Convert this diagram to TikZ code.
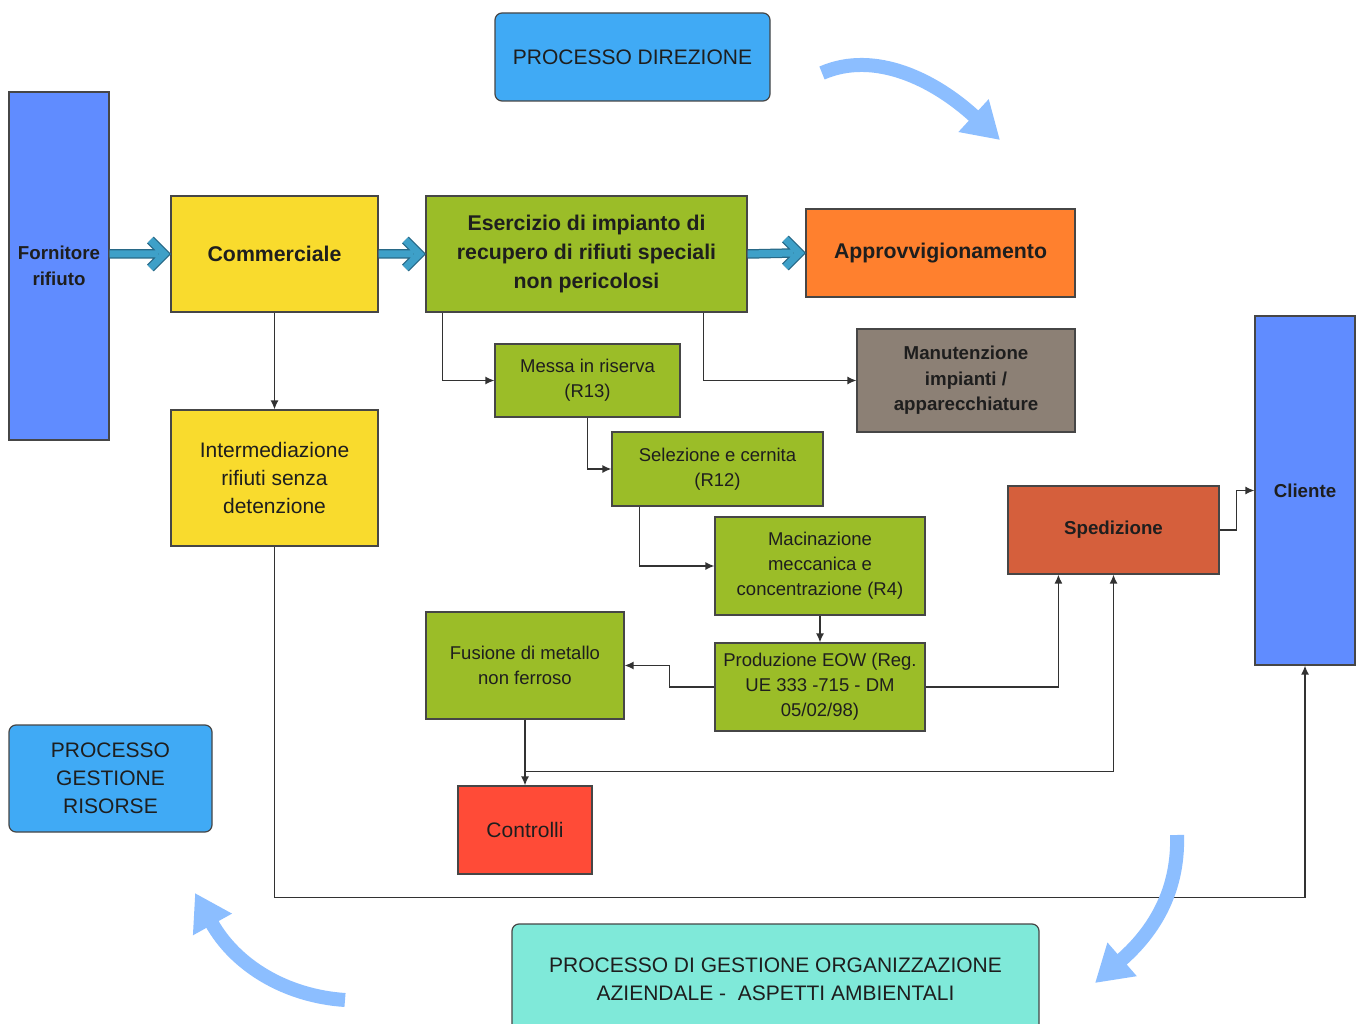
\documentclass[tikz,border=0pt]{standalone}
\usepackage{fontspec}
\setmainfont{Liberation Sans}
\usetikzlibrary{arrows.meta, calc, positioning}
\definecolor{cProc}{RGB}{64,170,245}
\definecolor{cProcTeal}{RGB}{127,233,217}
\definecolor{cBlue}{RGB}{96,140,255}
\definecolor{cYellow}{RGB}{249,219,45}
\definecolor{cGreen}{RGB}{155,189,40}
\definecolor{cOrange}{RGB}{255,128,46}
\definecolor{cTaupe}{RGB}{140,128,117}
\definecolor{cBrick}{RGB}{213,95,60}
\definecolor{cRed}{RGB}{255,75,55}
\definecolor{cSky}{RGB}{140,190,255}
\definecolor{cTeal}{RGB}{62,160,200}
\definecolor{cTealDark}{RGB}{40,105,135}
\definecolor{cBorder}{RGB}{70,70,70}
\definecolor{cText}{RGB}{30,30,30}
\definecolor{cLine}{RGB}{50,50,50}
\newcommand\fsSmall{\fontsize{18.5}{25}\selectfont}
\newcommand\fsBig{\fontsize{21}{28}\selectfont}
\newcommand\fsBoldSmall{\fontsize{18.7}{25.5}\selectfont\bfseries}
\newcommand\fsBoldBig{\fontsize{21.3}{29}\selectfont\bfseries}
\tikzset{
  box/.style={draw=cBorder, line width=1.2pt, align=center, inner sep=2pt,
              text=cText},
  procbox/.style={box, rounded corners=7pt, fill=cProc, font=\fsBig},
  conn/.style={draw=cLine, line width=1.4pt, -{Latex[length=9pt, width=8pt]}},
  fatarr/.style={draw=cTeal, line width=7pt, line join=miter,
    preaction={draw=cTealDark, line width=9.5pt},
    to path={(\tikztostart) -- ($(\tikztotarget)+(-12,0)$)
             ($(\tikztotarget)+(-20,-14)$) -- ($(\tikztotarget)+(-6,0)$)
             -- ($(\tikztotarget)+(-20,14)$)}},
  bigarr/.style={draw=cSky, line width=14pt,
    -{Triangle[length=36pt, width=42pt]}},
}

\begin{document}
\begin{tikzpicture}[x=1pt, y=-1pt]
\useasboundingbox (0,0) rectangle (1363,1024);
\fill[white] (0,0) rectangle (1363,1024);

%% process boxes (rounded)
\node[procbox, minimum width=275pt, minimum height=88pt] (dir) at (632.5,57)
  {PROCESSO DIREZIONE};
\node[procbox, minimum width=203pt, minimum height=107pt] (risorse) at (110.5,778.5)
  {PROCESSO\\GESTIONE\\RISORSE};
\node[procbox, fill=cProcTeal, minimum width=527pt, minimum height=110pt] (gest)
  at (775.5,979)
  {PROCESSO DI GESTIONE ORGANIZZAZIONE\\AZIENDALE -\ \ ASPETTI AMBIENTALI};

%% main flow
\node[box, fill=cBlue, font=\fsBoldSmall, minimum width=100pt, minimum height=348pt]
  (forn) at (59,266) {Fornitore\\rifiuto};
\node[box, fill=cYellow, font=\fsBoldBig, minimum width=207pt, minimum height=116pt]
  (comm) at (274.5,254) {Commerciale};
\node[box, fill=cGreen, font=\fsBoldBig, minimum width=321pt, minimum height=116pt]
  (eser) at (586.5,254)
  {Esercizio di impianto di\\recupero di rifiuti speciali\\non pericolosi};
\node[box, fill=cOrange, font=\fsBoldBig, minimum width=269pt, minimum height=88pt]
  (appr) at (940.5,253) {Approvvigionamento};
\node[box, fill=cTaupe, font=\fsBoldSmall, minimum width=218pt, minimum height=103pt]
  (manu) at (966,380.5) {Manutenzione\\impianti /\\apparecchiature};
\node[box, fill=cYellow, font=\fsBig, minimum width=207pt, minimum height=136pt]
  (inter) at (274.5,478) {Intermediazione\\rifiuti senza\\detenzione};

%% recovery steps
\node[box, fill=cGreen, font=\fsSmall, minimum width=185pt, minimum height=73pt]
  (messa) at (587.5,380.5) {Messa in riserva\\(R13)};
\node[box, fill=cGreen, font=\fsSmall, minimum width=211pt, minimum height=74pt]
  (sele) at (717.5,469) {Selezione e cernita\\(R12)};
\node[box, fill=cGreen, font=\fsSmall, minimum width=210pt, minimum height=98pt]
  (maci) at (820,566) {Macinazione\\meccanica e\\concentrazione (R4)};
\node[box, fill=cGreen, font=\fsSmall, minimum width=210pt, minimum height=88pt]
  (prod) at (820,687) {Produzione EOW (Reg.\\UE 333 -715 - DM\\05/02/98)};
\node[box, fill=cGreen, font=\fsSmall, minimum width=198pt, minimum height=107pt]
  (fusi) at (525,665.5) {Fusione di metallo\\non ferroso};
\node[box, fill=cRed, font=\fsBig, minimum width=134pt, minimum height=88pt]
  (cont) at (525,830) {Controlli};

%% shipping and customer
\node[box, fill=cBrick, font=\fsBoldSmall, minimum width=211pt, minimum height=88pt]
  (sped) at (1113.5,530) {Spedizione};
\node[box, fill=cBlue, font=\fsBoldSmall, minimum width=100pt, minimum height=349pt]
  (clie) at (1305,490.5) {Cliente};

%% fat arrows along the top row
\draw[fatarr] (forn.east |- comm.west) to (comm.west);
\draw[fatarr] (comm.east) to (eser.west);
\draw[fatarr] (eser.east) to (appr.west);

%% connectors
\draw[conn] (comm.south) -- (inter.north);
\draw[conn] ([xshift=17pt]eser.south west) |- (messa.west);
\draw[conn] ([xshift=-44pt]eser.south east) |- (manu.west);
\draw[conn] (messa.south) |- (sele.west);
\draw[conn] ([xshift=28pt]sele.south west) |- (maci.west);
\draw[conn] (maci.south) -- (prod.north);
\draw[conn] (prod.west) -- ++(-45,0) |- (fusi.east);
\draw[conn] (prod.east) -| ([xshift=51pt]sped.south west);
\draw[conn] (fusi.south) -- (cont.north);
\draw[conn] (fusi.south) -- ++(0,52) -| (sped.south);
\draw[conn] (sped.east) -- ++(17,0) |- (clie.west);
\draw[conn] (inter.south) -- ++(0,351) -| (clie.south);

%% curved process arrows
\coordinate (dirA) at (822,73);
\coordinate (dirB) at (1000,140);
\draw[bigarr] (dirA) .. controls (875,50) and (935,80) .. (dirB);
\coordinate (gestA) at (1177,835);
\coordinate (gestB) at (1095,983);
\draw[bigarr] (gestA) .. controls (1179,895) and (1150,935) .. (gestB);
\coordinate (risA) at (345,1000);
\coordinate (risB) at (195,893);
\draw[bigarr] (risA) .. controls (285,996) and (235,965) .. (risB);

\end{tikzpicture}
\end{document}
